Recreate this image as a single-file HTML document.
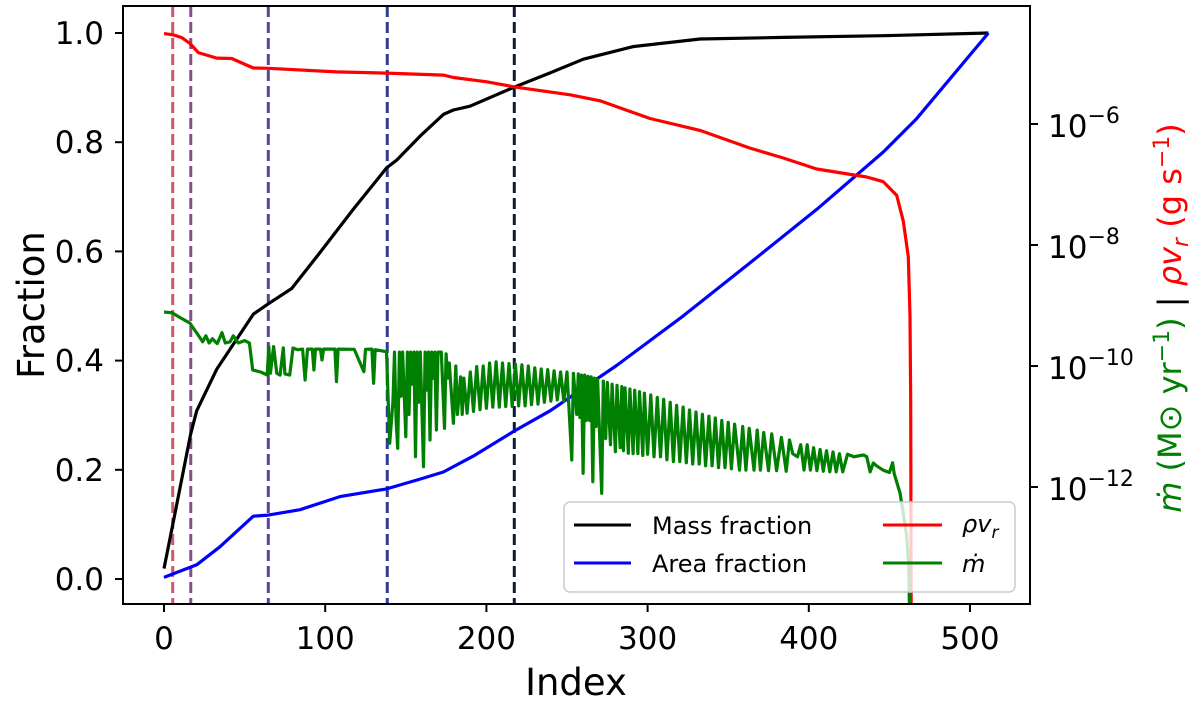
<!DOCTYPE html>
<html><head><meta charset="utf-8"><style>
html,body{margin:0;padding:0;background:#fff;}
svg{display:block;font-family:"DejaVu Sans","Liberation Sans",sans-serif;}
</style></head><body>
<svg id="chart" width="1200" height="702" viewBox="0 0 1200 702" xmlns="http://www.w3.org/2000/svg">
<defs><clipPath id="plotclip"><rect x="123" y="6" width="907" height="598"/></clipPath></defs>
<g id="marks" clip-path="url(#plotclip)"></g>
<rect x="123" y="6" width="907" height="598" fill="none" stroke="#000" stroke-width="2"/>
<g id="axes"></g>
<text x="44" y="305" font-size="37" text-anchor="middle" transform="rotate(-90 44 305)">Fraction</text>
<text x="576" y="695" font-size="37" text-anchor="middle">Index</text>
<text x="1181" y="318" font-size="32" text-anchor="middle" transform="rotate(-90 1181 318)"><tspan fill="#008000" font-style="italic">ṁ</tspan><tspan fill="#008000"> (M⊙ yr</tspan><tspan fill="#008000" font-size="22" dy="-12">−1</tspan><tspan fill="#008000" dy="12">)</tspan><tspan fill="#000"> | </tspan><tspan fill="#ff0000" font-style="italic">ρv</tspan><tspan fill="#ff0000" font-style="italic" font-size="22" dy="7">r</tspan><tspan fill="#ff0000" dy="-7"> (g s</tspan><tspan fill="#ff0000" font-size="22" dy="-12">−1</tspan><tspan fill="#ff0000" dy="12">)</tspan></text>
<g>
<rect x="564" y="502" width="451" height="90" rx="6" fill="rgba(255,255,255,0.8)" stroke="#ccc" stroke-width="1.5"/>
<line x1="574" y1="525" x2="631" y2="525" stroke="#000" stroke-width="3"/>
<text x="652" y="534" font-size="24">Mass fraction</text>
<line x1="574" y1="563" x2="631" y2="563" stroke="#0000ff" stroke-width="3"/>
<text x="652" y="572" font-size="24">Area fraction</text>
<line x1="883" y1="525" x2="942" y2="525" stroke="#ff0000" stroke-width="3"/>
<text x="962" y="532" font-size="24" font-style="italic">ρv<tspan font-size="17" dy="6">r</tspan></text>
<line x1="883" y1="563" x2="942" y2="563" stroke="#008000" stroke-width="3"/>
<text x="962" y="572" font-size="24" font-style="italic">ṁ</text>
</g>
</svg>
<script>
const xTicks = [0,100,200,300,400,500];
const yTicks = [0.0,0.2,0.4,0.6,0.8,1.0];
const yTickLabels = ["0.0","0.2","0.4","0.6","0.8","1.0"];
const logTicks = [-6,-8,-10,-12];
const vlineIdx = [5.4,16.6,64.7,138.5,217.3];
const vlineColors = ["#d1566e","#8b4c8f","#5e3f9e","#2b3c97","#0f1a3a"];
const massIdx = [0,5.4,16.5,20.3,32.7,55.4,64.7,79.2,96.8,117.4,138.1,144.3,158.8,173.3,179.5,189.8,217.3,239.5,260.1,291.1,332.5,384.2,446.2,511.4];
const massVal = [0.019,0.099,0.265,0.308,0.384,0.485,0.504,0.532,0.598,0.677,0.753,0.767,0.811,0.851,0.859,0.866,0.901,0.927,0.952,0.975,0.989,0.992,0.995,1.0];
const areaIdx = [0,20.3,34.7,55.4,64.7,84.4,109.2,138.1,158.8,173.3,191.9,217.3,239.5,280.8,322.2,363.5,404.9,446.2,466.9,511.4];
const areaVal = [0.003,0.026,0.059,0.115,0.117,0.127,0.151,0.165,0.183,0.196,0.225,0.271,0.308,0.391,0.482,0.579,0.677,0.782,0.843,1.0];
const rhoIdx = [0,5.8,11,16.1,21.3,32.7,42,55.4,64.7,107.1,138.1,173.3,179.5,200.2,217.3,251.9,270.5,301.5,332.5,363.5,384.2,404.9,435.9,446.2,454.5,458.6,461.7,462.8,463.2,463.6];
const rhoLog = [-4.506,-4.526,-4.572,-4.669,-4.82,-4.911,-4.917,-5.074,-5.079,-5.139,-5.159,-5.192,-5.231,-5.302,-5.387,-5.517,-5.617,-5.909,-6.106,-6.398,-6.562,-6.744,-6.876,-6.954,-7.18,-7.607,-8.193,-9.17,-10.58,-15];
const mdotIdx = [0,5,10,16,22,24,26,28,30,33,36,38,41,43,46,50,53,55,60,64,65,66,68,70,72,74,75,78,80,83,86,87.5,89,92,93,94,97,98,99,106,107,108,118,124,125,129,130,131,138,
140,142,143,144,145,146,147,148,150,151,152,153,154,155,156,157,158,159,161,162,163,164,165,166,167,168,169,170,172,174,175,176,177,179.5,181,182,184,185,186,188,190,192,194,196,198,200,202,204,206,208,210,212,214,216,218,220,222,224,226,228,230,232,234,236,238,240,242,244,246,248,250,
253,254,256,257,258,259,260,261,262,263,264,265,266,267,268,269,270,271.5,272.5,274,275,277,278,280,281,283,284,285,286,288,289,291,292,294,295,297,298,300,302,304,306,308,310,312,314,316,318,320,322,324,326,328,330,332,334,336,338,340,342,344,346,348,350,352,354,357,359,361,363,366,368,370,372,375,377,380,383,386,388,390,393,395,397,399,401,403,405,407,409,411,413,415,417,419,421,424,428,432,434,436,438,440,442,446,450,452,453,456.6,459,460.7,462,462.8];
const mdotLog = [-9.107,-9.12,-9.2,-9.289,-9.521,-9.6,-9.5,-9.62,-9.55,-9.63,-9.45,-9.62,-9.6,-9.5,-9.62,-9.58,-9.62,-10.066,-10.1,-10.149,-9.68,-10.12,-9.68,-10.12,-10.15,-9.7,-10.13,-10.15,-9.702,-9.73,-9.72,-10.231,-9.72,-9.72,-10.066,-9.72,-9.72,-9.901,-9.72,-9.72,-10.259,-9.72,-9.724,-10.094,-9.724,-9.72,-10.286,-9.73,-9.764,
-11.278,-10.6,-9.77,-10.9,-11.36,-9.77,-10.5,-9.77,-11.169,-9.77,-10.8,-9.77,-10.3,-9.77,-11.499,-9.77,-10.6,-9.77,-11.664,-9.77,-10.4,-9.77,-11.223,-9.77,-10.2,-9.77,-11.058,-9.77,-9.77,-11.03,-9.8,-10.2,-9.95,-10.947,-10.0,-10.8,-10.18,-10.8,-10.2,-10.78,-10.1,-10.75,-10.01,-10.72,-10.0,-10.7,-9.95,-10.68,-9.93,-10.68,-9.95,-10.67,-9.96,-10.67,-9.97,-10.66,-9.98,-10.66,-10.0,-10.64,-10.03,-10.63,-10.05,-10.6,-10.06,-10.58,-10.08,-10.56,-10.1,-10.58,-10.1,
-11.554,-10.12,-10.8,-10.13,-10.85,-10.15,-11.774,-10.15,-10.9,-10.17,-10.9,-10.18,-11.912,-10.2,-11.0,-10.22,-10.95,-12.104,-10.25,-11.2,-10.27,-11.3,-10.3,-11.416,-10.32,-11.35,-10.34,-11.4,-10.36,-11.443,-10.38,-11.45,-10.4,-11.45,-10.425,-11.48,-10.45,-11.46,-10.48,-11.5,-10.52,-11.5,-10.55,-11.55,-10.6,-11.582,-10.65,-11.58,-10.68,-11.6,-10.727,-11.62,-10.76,-11.62,-10.8,-11.65,-10.83,-11.65,-10.86,-11.68,-10.9,-11.68,-10.93,-11.7,-10.96,-11.72,-11.0,-11.72,-11.03,-11.72,-11.06,-11.72,-11.1,-11.73,-11.12,-11.73,-11.18,-11.74,-11.223,-11.45,-11.5,-11.3,-11.72,-11.3,-11.72,-11.35,-11.73,-11.38,-11.74,-11.4,-11.75,-11.42,-11.75,-11.45,-11.75,-11.46,-11.5,-11.48,-11.471,-11.5,-11.75,-11.603,-11.65,-11.72,-11.76,-11.6,-11.78,-12.099,-12.5,-12.8,-13.3,-14.5];

const NS = "http://www.w3.org/2000/svg";
const xS = v => 164 + v * 1.612;
const yS = v => 579 - v * 546;
const yL = v => 124 + (-6 - v) * 60.5;
const marks = document.getElementById('marks');
const axes = document.getElementById('axes');
function mk(tag, attrs, parent) {
  const e = document.createElementNS(NS, tag);
  for (const k in attrs) e.setAttribute(k, attrs[k]);
  parent.appendChild(e);
  return e;
}
function path(xs, ys, fx, fy) {
  return xs.map((x, i) => (i ? 'L' : 'M') + fx(x).toFixed(1) + ',' + fy(ys[i]).toFixed(1)).join(' ');
}
vlineIdx.forEach((v, i) => {
  const l = mk('line', {x1: xS(v), x2: xS(v), y1: 6, y2: 604, stroke: vlineColors[i], 'stroke-width': 3, 'stroke-dasharray': '11,5'}, marks);
  
  
});
const series = [
  [massIdx, massVal, yS, '#000000', 'mass-fraction-line'],
  [areaIdx, areaVal, yS, '#0000ff', 'area-fraction-line'],
  [rhoIdx, rhoLog, yL, '#ff0000', 'rhov-line'],
  [mdotIdx, mdotLog, yL, '#008000', 'mdot-line']
];
series.forEach(s => {
  const p = mk('path', {d: path(s[0], s[1], xS, s[2]), fill: 'none', stroke: s[3], 'stroke-width': 3.2, 'stroke-linejoin': 'round'}, marks);
  
  
});
xTicks.forEach(t => {
  const g = mk('g', {}, axes);
  
  
  mk('line', {x1: xS(t), x2: xS(t), y1: 604, y2: 612, stroke: '#000', 'stroke-width': 2}, g);
  const tx = mk('text', {x: xS(t), y: 649, 'font-size': 31, 'text-anchor': 'middle'}, g);
  tx.textContent = t;
});
yTicks.forEach((t, i) => {
  const g = mk('g', {}, axes);
  
  
  mk('line', {x1: 115, x2: 123, y1: yS(t), y2: yS(t), stroke: '#000', 'stroke-width': 2}, g);
  const tx = mk('text', {x: 104, y: yS(t) + 11, 'font-size': 31, 'text-anchor': 'end'}, g);
  tx.textContent = yTickLabels[i];
});
logTicks.forEach(t => {
  const g = mk('g', {}, axes);
  
  
  mk('line', {x1: 1030, x2: 1038, y1: yL(t), y2: yL(t), stroke: '#000', 'stroke-width': 2}, g);
  const tx = mk('text', {x: 1048, y: yL(t) + 13, 'font-size': 31}, g);
  tx.textContent = '10';
  const sp = mk('tspan', {'font-size': 22, dy: -14}, tx);
  sp.textContent = '−' + Math.abs(t);
});
</script>
</body></html>
